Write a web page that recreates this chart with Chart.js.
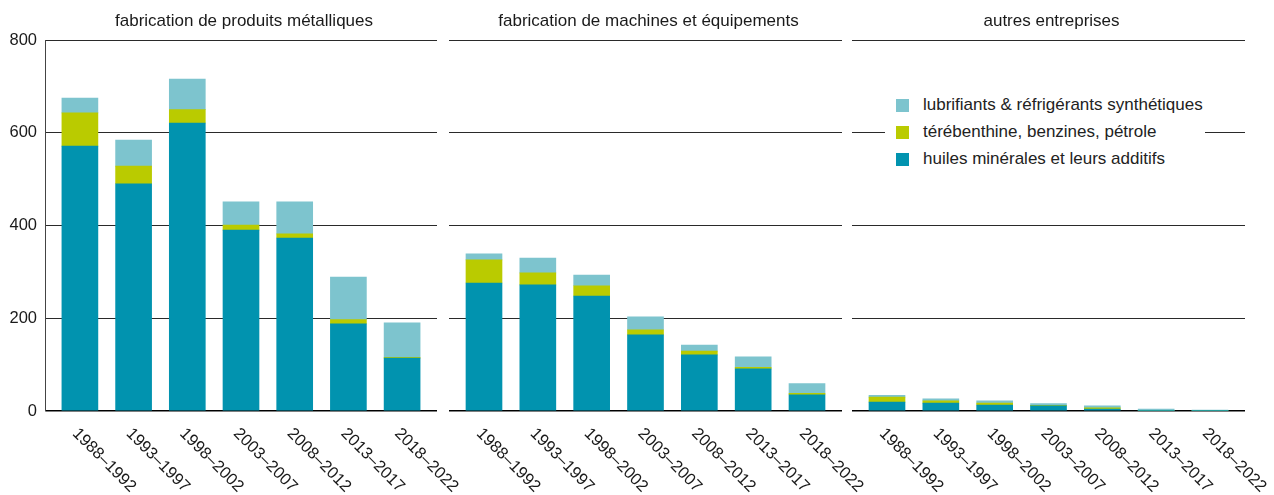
<!DOCTYPE html>
<html>
<head>
<meta charset="utf-8">
<script src="https://cdn.jsdelivr.net/npm/chart.js@4"></script>
<style>
  body { margin: 0; background: #fff; }
  .wrap { position: relative; width: 1274px; height: 495px; }
  .wrap canvas { position: absolute; left: 0; top: 0; }
  .legend {
    position: absolute; left: 885px; top: 91px; width: 320px; height: 82px;
    background: #fff; font-family: "Liberation Sans", Arial, sans-serif; font-size: 17px; color: #222;
  }
  .legend div { position: absolute; left: 38px; white-space: nowrap; line-height: 20px; }
  .legend span { position: absolute; left: -27px; top: 4px; width: 13px; height: 13px; }
</style>
</head>
<body>
<div class="wrap">
  <canvas id="c1" width="1274" height="495"></canvas>
  <canvas id="c2" width="1274" height="495"></canvas>
  <canvas id="c3" width="1274" height="495"></canvas>
  <div class="legend">
    <div style="top:4px"><span style="background:#7dc4ce"></span>lubrifiants &amp; réfrigérants synthétiques</div>
    <div style="top:31px"><span style="background:#bacb00"></span>térébenthine, benzines, pétrole</div>
    <div style="top:58px"><span style="background:#0193af"></span>huiles minérales et leurs additifs</div>
  </div>
</div>
<script>
const periods = ["1988–1992", "1993–1997", "1998–2002", "2003–2007", "2008–2012", "2013–2017", "2018–2022"];
const yTicks = [0, 200, 400, 600, 800];

// fabrication de produits métalliques
const metalMineral = [571, 490, 621, 390, 373, 188, 114];
const metalSolvent = [72, 38, 29, 11, 9, 9, 2];
const metalSynth = [32, 56, 66, 50, 69, 92, 74];

// fabrication de machines et équipements
const machMineral = [276, 272, 248, 164, 121, 91, 35];
const machSolvent = [50, 26, 22, 11, 8, 3, 3];
const machSynth = [13, 32, 23, 28, 13, 23, 21];

// autres entreprises
const otherMineral = [19, 17, 13, 11, 4, 1, 1];
const otherSolvent = [11, 5, 4, 1, 3, 0, 0];
const otherSynth = [4, 4, 5, 4, 4, 3, 1];

const FONT = "Liberation Sans, Arial, sans-serif";
const colors = { mineral: "#0193af", solvent: "#bacb00", synth: "#7dc4ce" };

const toPoints = (arr) => arr.map((v, i) => ({ x: i, y: v }));

// title above the panel and rotated period labels under it
const panelText = {
  id: "panelText",
  afterDraw(chart, args, opts) {
    const { ctx, chartArea, scales } = chart;
    ctx.save();
    ctx.fillStyle = "#1a1a1a";
    ctx.font = "17px " + FONT;
    ctx.textAlign = "center";
    ctx.textBaseline = "middle";
    ctx.fillText(opts.title, (chartArea.left + chartArea.right) / 2 + 3, 21);
    ctx.font = "16.5px " + FONT;
    ctx.textAlign = "left";
    periods.forEach((p, i) => {
      const px = scales.x.getPixelForValue(i);
      ctx.save();
      ctx.translate(px - 5, chartArea.bottom + 20);
      ctx.rotate(Math.PI / 4);
      ctx.fillText(p, 0, 0);
      ctx.restore();
    });
    ctx.restore();
  },
};

function createPanel(id, title, mineral, solvent, synth, left, right, showAxis) {
  const ctx = document.getElementById(id).getContext("2d");
  new Chart(ctx, {
    type: "bar",
    data: {
      datasets: [
        { label: "huiles minérales et leurs additifs", data: toPoints(mineral), backgroundColor: colors.mineral },
        { label: "térébenthine, benzines, pétrole", data: toPoints(solvent), backgroundColor: colors.solvent },
        { label: "lubrifiants & réfrigérants synthétiques", data: toPoints(synth), backgroundColor: colors.synth },
      ],
    },
    options: {
      responsive: false,
      animation: false,
      devicePixelRatio: 1,
      layout: { padding: { left: left, right: right, top: 40, bottom: 84 } },
      datasets: { bar: { barThickness: 36, borderWidth: 0 } },
      plugins: {
        legend: { display: false },
        tooltip: { enabled: false },
        panelText: { title: title },
      },
      scales: {
        x: {
          type: "linear",
          stacked: true,
          display: false,
          offset: false,
          min: -0.65,
          max: 6.65,
        },
        y: {
          stacked: true,
          min: 0,
          max: 800,
          afterBuildTicks: (scale) => {
            scale.ticks = yTicks.map((v) => ({ value: v }));
          },
          afterFit: (scale) => {
            scale.width = showAxis ? 45 : 0;
          },
          border: { display: showAxis, color: "#444", width: 1 },
          grid: {
            drawTicks: false,
            color: (c) => (c.tick && c.tick.value === 0 ? "#000" : "#2a2a2a"),
            lineWidth: (c) => (c.tick && c.tick.value === 0 ? 1.5 : 1),
          },
          ticks: {
            display: showAxis,
            padding: 8,
            color: "#1a1a1a",
            font: { family: FONT, size: 16.5 },
          },
        },
      },
    },
    plugins: [panelText],
  });
}

createPanel("c1", "fabrication de produits métalliques", metalMineral, metalSolvent, metalSynth, 0, 1274 - 437, true);
createPanel("c2", "fabrication de machines et équipements", machMineral, machSolvent, machSynth, 449, 1274 - 842, false);
createPanel("c3", "autres entreprises", otherMineral, otherSolvent, otherSynth, 852, 1274 - 1245, false);
</script>
</body>
</html>
